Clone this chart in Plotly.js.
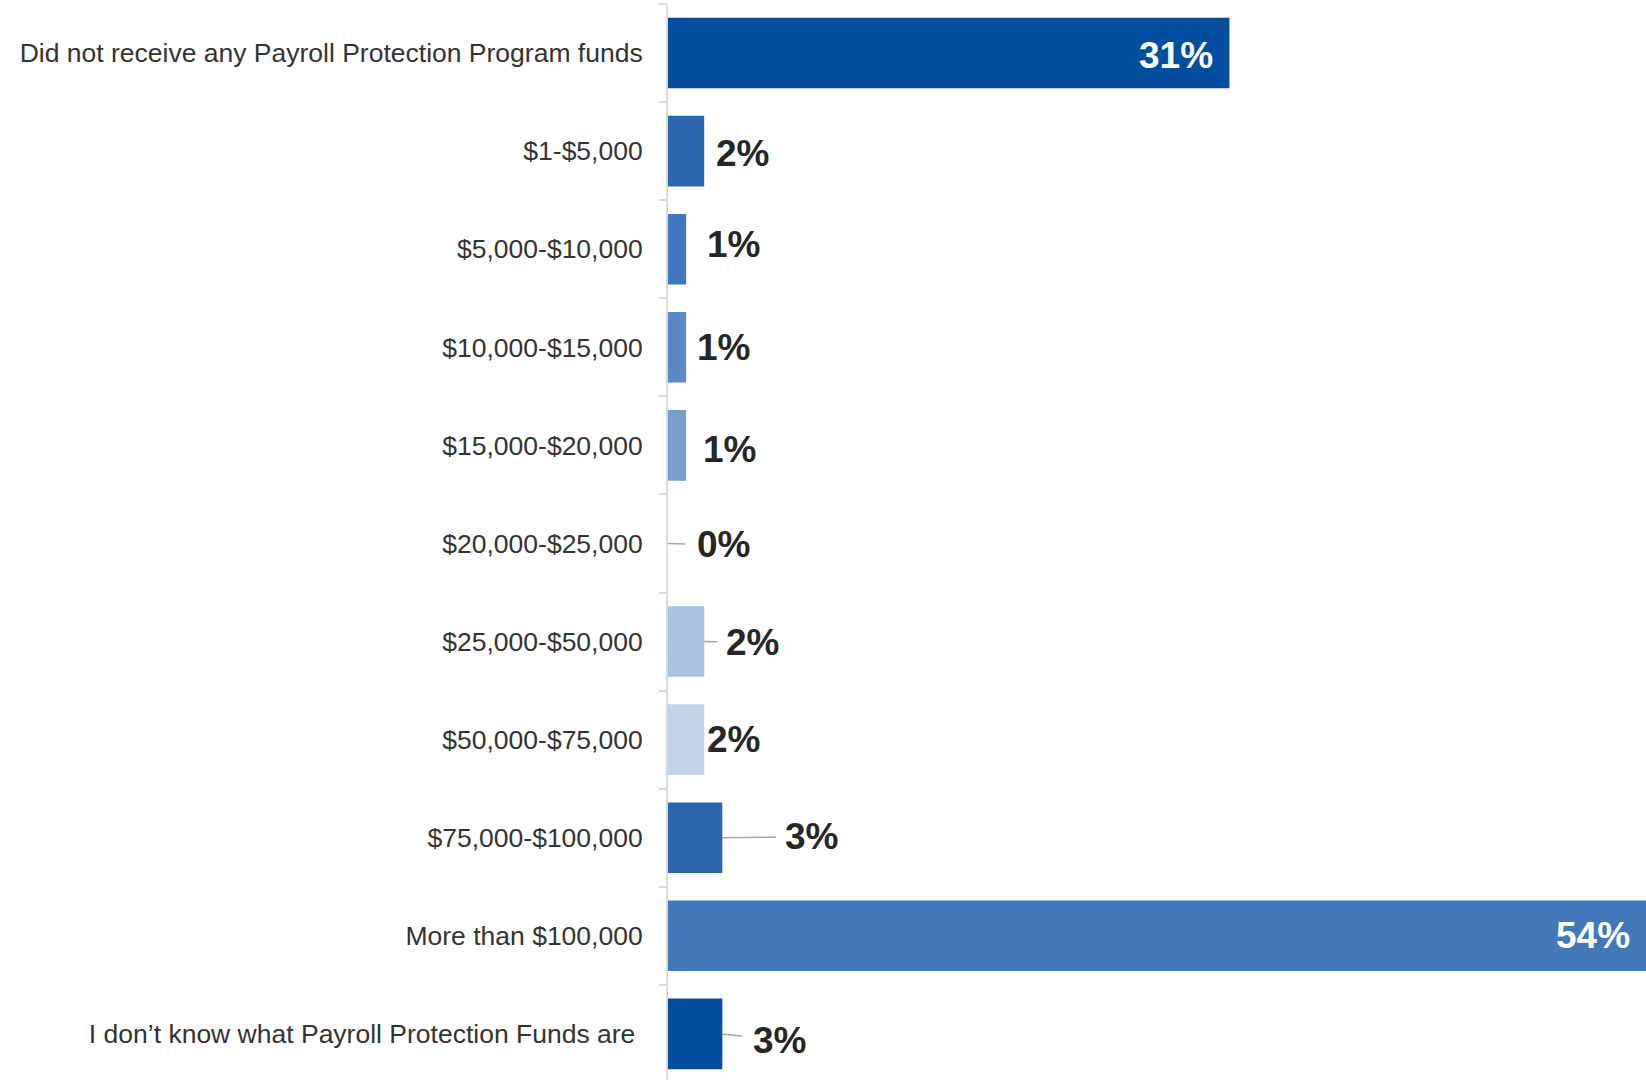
<!DOCTYPE html>
<html>
<head>
<meta charset="utf-8">
<script src="https://cdn.plot.ly/plotly-3.0.1.min.js"></script>
<style>
html,body{margin:0;padding:0;background:#ffffff;}
#chart{width:1646px;height:1080px;}
</style>
</head>
<body>
<div id="chart"></div>
<script>
// ---- data ----
const categories = [
  "Did not receive any Payroll Protection Program funds",
  "$1-$5,000",
  "$5,000-$10,000",
  "$10,000-$15,000",
  "$15,000-$20,000",
  "$20,000-$25,000",
  "$25,000-$50,000",
  "$50,000-$75,000",
  "$75,000-$100,000",
  "More than $100,000",
  "I don\u2019t know what Payroll Protection Funds are"
];
const values = [31, 2, 1, 1, 1, 0, 2, 2, 3, 54, 3];
const valueLabels = values.map(v => v + "%");

// ---- styles ----
const barColors = ["#044ea0", "#2a66ad", "#3f78bc", "#5a89c5", "#789ecd", "#8fb0d7",
                   "#a8c1e0", "#c2d4ea", "#2966ad", "#4379b8", "#044ea0"];
// label placement: 'in' = inside end, 'out' = outside, 'lead' = with leader line
const labelMode  = ["in", "out", "out", "out", "out", "lead", "lead", "out", "lead", "in", "lead"];
const labelDx    = [-14, 10, 19, 9, 15, 55, 48.5, 1, 89.5, -14.5, 57];
const labelDy    = [-2, -2, 4.5, 0, -4, 1.5, 1, 0, -1, 0, 6.7];
const leaderGap  = [0, 0, 0, 0, 0, 10, 7, 0, 8, 0, 9];
// extra right padding on the last category label (as in the original layout)
const tickPad    = ["", "", "", "", "", "", "", "", "", "", "&nbsp;"];

const labelFontBase = {family: "Liberation Sans, Arial, sans-serif", size: 37};

const annotations = values.map((v, i) => {
  const mode = labelMode[i];
  const a = {
    x: v, y: categories[i], xref: "x", yref: "y",
    text: "<b>" + valueLabels[i] + "</b>",
    font: Object.assign({}, labelFontBase, {color: mode === "in" ? "#ffffff" : "#262626"})
  };
  if (mode === "lead") {
    Object.assign(a, {
      showarrow: true, arrowhead: 0, startarrowhead: 0, arrowside: "end+start",
      arrowwidth: 1.5, arrowcolor: "#a6a6a6",
      axref: "pixel", ayref: "pixel", ax: labelDx[i], ay: labelDy[i],
      startstandoff: leaderGap[i], standoff: 0
    });
  } else {
    Object.assign(a, {
      showarrow: false,
      xanchor: mode === "in" ? "right" : "left",
      yanchor: "middle",
      xshift: labelDx[i], yshift: labelDy[i]
    });
  }
  return a;
});

const trace = {
  type: "bar",
  orientation: "h",
  x: values,
  y: categories,
  marker: {color: barColors},
  hoverinfo: "none"
};

const layout = {
  width: 1646, height: 1080,
  margin: {l: 668, r: 0, t: 4, b: 0},
  paper_bgcolor: "#ffffff", plot_bgcolor: "#ffffff",
  showlegend: false,
  bargap: 0.28,
  xaxis: {range: [0, 54], visible: false, showgrid: false, zeroline: false, fixedrange: true},
  yaxis: {
    type: "category",
    range: [10.47, -0.5],
    tickmode: "array",
    tickvals: categories,
    ticktext: categories.map((c, i) => c + tickPad[i]),
    tickson: "boundaries",
    ticks: "outside", ticklen: 7, tickwidth: 2, tickcolor: "#d9d9d9",
    showline: true, linecolor: "#d9d9d9", linewidth: 2,
    showgrid: false, zeroline: false,
    tickfont: {family: "Liberation Sans, Arial, sans-serif", size: 26.5, color: "#333333"},
    ticklabelstandoff: 18,
    automargin: false, fixedrange: true
  },
  annotations: annotations
};

Plotly.newPlot("chart", [trace], layout, {displayModeBar: false, staticPlot: true});
</script>
</body>
</html>
